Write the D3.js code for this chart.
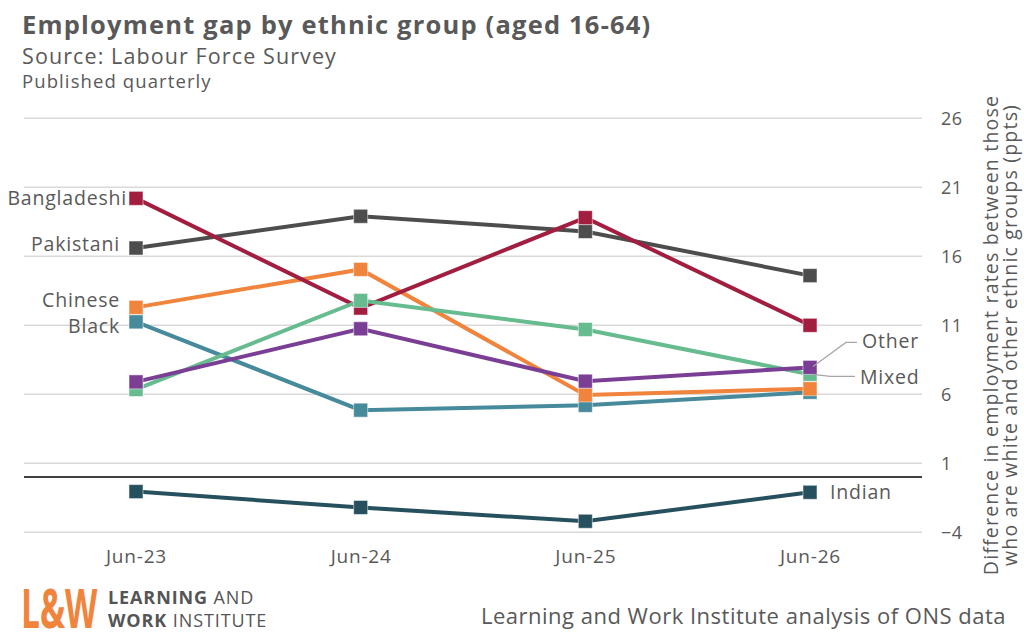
<!DOCTYPE html>
<html>
<head>
<meta charset="utf-8">
<script src="https://cdn.jsdelivr.net/npm/d3@7"></script>
<style>
  body { margin: 0; background: #fff; }
  svg { font-family: "Open Sans", Lato, sans-serif; }
</style>
</head>
<body>
<div id="chart"></div>
<script>
// data
var months = ["Jun-23", "Jun-24", "Jun-25", "Jun-26"];
var yTicks = [-4, 1, 6, 11, 16, 21, 26];
var groups = ["Indian", "Pakistani", "Black", "Chinese", "Bangladeshi", "Mixed", "Other"];
var indian      = [-1.05, -2.2, -3.2, -1.1];
var pakistani   = [16.6, 18.9, 17.8, 14.6];
var black       = [11.25, 4.85, 5.2, 6.15];
var chinese     = [12.3, 15.05, 5.95, 6.4];
var bangladeshi = [20.2, 12.25, 18.8, 11.0];
var mixed       = [6.35, 12.8, 10.7, 7.45];
var other       = [6.9, 10.75, 6.95, 7.95];

var values = [indian, pakistani, black, chinese, bangladeshi, mixed, other];
var colors = ["#27505e", "#4d4d4d", "#468a9b", "#f0843c", "#a21e40", "#66bb8f", "#7a3f95"];

var width = 1024, height = 635;
var textCol = "#595959";

var svg = d3.select("#chart").append("svg")
  .attr("width", width)
  .attr("height", height);

var x = d3.scalePoint()
  .domain(months)
  .range([136, 810]);

var y = d3.scaleLinear()
  .domain([-4, 26])
  .range([532.3, 118.3]);

// gridlines
svg.append("g").selectAll("line")
  .data(yTicks)
  .enter().append("line")
  .attr("x1", 24).attr("x2", 922)
  .attr("y1", d => y(d)).attr("y2", d => y(d))
  .attr("stroke", "#d9d9d9")
  .attr("stroke-width", 1.5);

// zero line
svg.append("line")
  .attr("x1", 24).attr("x2", 922)
  .attr("y1", y(0)).attr("y2", y(0))
  .attr("stroke", "#000")
  .attr("stroke-width", 1.5);

// right axis
var yAxis = svg.append("g")
  .attr("transform", "translate(922,0)")
  .call(d3.axisRight(y).tickValues(yTicks).tickSize(0).tickPadding(19));
yAxis.select(".domain").remove();
yAxis.selectAll("text")
  .attr("fill", textCol)
  .style("font-size", "18px")
  .style("letter-spacing", "0.5px")
  .style("font-family", "'Open Sans', sans-serif");

// x axis
var xAxis = svg.append("g")
  .attr("transform", "translate(0,549)")
  .call(d3.axisBottom(x).tickSize(0).tickPadding(0));
xAxis.select(".domain").remove();
xAxis.selectAll("text")
  .attr("fill", textCol)
  .attr("dy", "0.71em")
  .style("font-size", "19px")
  .style("letter-spacing", "0.8px")
  .style("font-family", "'Open Sans', sans-serif");

// lines and markers
var line = d3.line()
  .x((d, i) => x(months[i]))
  .y(d => y(d));

groups.forEach(function (g, k) {
  var s = svg.append("g");
  s.append("path")
    .datum(values[k])
    .attr("d", line)
    .attr("fill", "none")
    .attr("stroke", colors[k])
    .attr("stroke-width", 4);
  s.selectAll("rect")
    .data(values[k])
    .enter().append("rect")
    .attr("x", (d, i) => x(months[i]) - 7)
    .attr("y", d => y(d) - 7)
    .attr("width", 14)
    .attr("height", 14)
    .attr("fill", colors[k])
    .attr("stroke", "#fff")
    .attr("stroke-opacity", 0.5)
    .attr("stroke-width", 1);
});

// series labels
var lab = svg.append("g")
  .attr("fill", textCol)
  .style("font-size", "19.5px")
  .style("letter-spacing", "0.8px");

lab.append("text").attr("x", 127).attr("y", y(bangladeshi[0])).attr("dy", "0.35em")
  .attr("text-anchor", "end").text("Bangladeshi");
lab.append("text").attr("x", 120).attr("y", y(pakistani[0]) - 4).attr("dy", "0.35em")
  .attr("text-anchor", "end").text("Pakistani");
lab.append("text").attr("x", 120).attr("y", y(chinese[0]) - 7).attr("dy", "0.35em")
  .attr("text-anchor", "end").text("Chinese");
lab.append("text").attr("x", 120).attr("y", y(black[0]) + 4).attr("dy", "0.35em")
  .attr("text-anchor", "end").text("Black");
lab.append("text").attr("x", 830).attr("y", y(indian[3])).attr("dy", "0.35em")
  .text("Indian");
lab.append("text").attr("x", 862).attr("y", y(other[3]) - 26).attr("dy", "0.35em")
  .text("Other");
lab.append("text").attr("x", 860).attr("y", y(mixed[3]) + 3).attr("dy", "0.35em")
  .text("Mixed");

// leader lines
var lx = x(months[3]);
svg.append("polyline")
  .attr("points", [[lx + 3, y(other[3]) - 1], [lx + 36, y(other[3]) - 25], [lx + 47, y(other[3]) - 25]].join(" "))
  .attr("fill", "none").attr("stroke", "#a6a6a6").attr("stroke-width", 1.2);
svg.append("polyline")
  .attr("points", [[lx + 3, y(mixed[3])], [lx + 20, y(mixed[3]) + 2], [lx + 45, y(mixed[3]) + 2]].join(" "))
  .attr("fill", "none").attr("stroke", "#a6a6a6").attr("stroke-width", 1.2);

// axis title
svg.append("text")
  .attr("transform", "translate(998,335) rotate(-90)")
  .attr("text-anchor", "middle")
  .attr("fill", textCol)
  .style("font-size", "19.5px")
  .style("letter-spacing", "1.2px")
  .text("Difference in employment rates between those");
svg.append("text")
  .attr("transform", "translate(1017,335) rotate(-90)")
  .attr("text-anchor", "middle")
  .attr("fill", textCol)
  .style("font-size", "19.5px")
  .style("letter-spacing", "1.2px")
  .text("who are white and other ethnic groups (ppts)");

// titles
svg.append("text")
  .attr("x", 22).attr("y", 34)
  .attr("fill", textCol)
  .style("font-size", "25.5px")
  .style("font-weight", "bold")
  .style("letter-spacing", "1.2px")
  .text("Employment gap by ethnic group (aged 16-64)");
svg.append("text")
  .attr("x", 22).attr("y", 64)
  .attr("fill", textCol)
  .style("font-size", "21.5px")
  .style("letter-spacing", "1.1px")
  .text("Source: Labour Force Survey");
svg.append("text")
  .attr("x", 22).attr("y", 88)
  .attr("fill", textCol)
  .style("font-size", "18.5px")
  .style("letter-spacing", "1.1px")
  .text("Published quarterly");

// footer
svg.append("text")
  .attr("x", 1006).attr("y", 624)
  .attr("text-anchor", "end")
  .attr("fill", textCol)
  .style("font-size", "22px")
  .style("letter-spacing", "0.5px")
  .text("Learning and Work Institute analysis of ONS data");

// logo
svg.append("text")
  .attr("transform", "translate(21,628) scale(0.62,1)")
  .attr("fill", "#f0843c")
  .style("font-size", "54px")
  .style("font-weight", "bold")
  .text("L&W");
var logo = svg.append("g").attr("fill", "#555").style("font-size", "18px").style("letter-spacing", "0.9px");
var t1 = logo.append("text").attr("x", 108).attr("y", 604);
t1.append("tspan").style("font-weight", "bold").text("LEARNING");
t1.append("tspan").text(" AND");
var t2 = logo.append("text").attr("x", 108).attr("y", 627);
t2.append("tspan").style("font-weight", "bold").text("WORK");
t2.append("tspan").text(" INSTITUTE");
</script>
</body>
</html>
